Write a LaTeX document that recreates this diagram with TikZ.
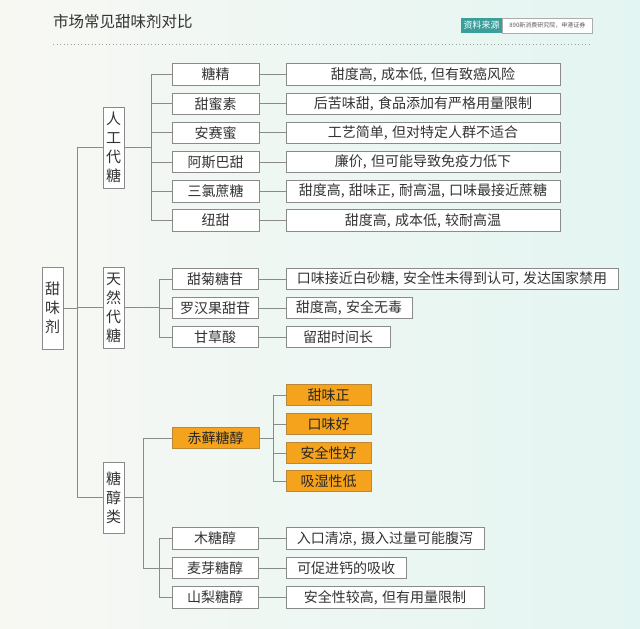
\documentclass[tikz,border=0pt]{standalone}
\usepackage{fontspec}
\setmainfont{Noto Sans CJK SC}
\usetikzlibrary{calc}
\definecolor{bgl}{HTML}{F8F8F3}
\definecolor{bgr}{HTML}{E3F5F2}
\definecolor{ln}{HTML}{8A8A8A}
\definecolor{tx}{HTML}{333333}
\definecolor{org}{HTML}{F5A31C}
\definecolor{orgd}{HTML}{B98838}
\definecolor{tealc}{HTML}{3A9E9A}
\newcommand\zcomma{,\hspace{0.3em}}
\begin{document}
\begin{tikzpicture}[x=1pt,y=-1pt,
  box/.style={draw=ln, line width=0.9pt, fill=white, minimum height=21.5pt, inner sep=0pt, text=tx, font=\fontsize{14}{15}\selectfont},
  vbox/.style={box, minimum width=21pt, align=center, font=\fontsize{15}{19}\selectfont},
  obox/.style={box, fill=org, draw=orgd, text=black!85},
  conn/.style={draw=ln, line width=0.9pt}]
\useasboundingbox (0,0) rectangle (640,629);
\fill[left color=bgl, right color=bgr] (0,0) rectangle (640,629);

% title
\node[anchor=west, inner sep=0pt, font=\fontsize{15.5}{16}\selectfont, text=tx] (title) at (53,22) {市场常见甜味剂对比};
\draw[ln!80, line width=0.9pt, dash pattern=on 1pt off 2.5pt] (53,44) -- (592,44);
\node[fill=tealc, text=white, inner sep=0pt, minimum width=41pt, minimum height=15pt, font=\fontsize{9}{9}\selectfont] (src1) at (481.5,25.5) {资料来源};
\node[draw=ln!70, fill=white, anchor=west, inner sep=0pt, minimum width=90pt, minimum height=15pt, font=\fontsize{6}{6}\selectfont, text=tx!80] (src2) at (src1.east) {890新消费研究院，申港证券};

% category nodes
\node[vbox, minimum height=82pt] (root) at (52.5,308) {甜\\味\\剂};
\node[vbox, minimum height=81pt] (cat1) at (113.5,147.5) {人\\工\\代\\糖};
\node[vbox, minimum height=81pt] (cat2) at (113.5,307.5) {天\\然\\代\\糖};
\node[vbox, minimum height=71pt] (cat3) at (113.5,497.5) {糖\\醇\\类};

% artificial sweeteners
\node[box, minimum width=87pt] (a1) at (215.5,74.5) {糖精};
\node[box, minimum width=87pt] (a2) at (215.5,103.7) {甜蜜素};
\node[box, minimum width=87pt] (a3) at (215.5,132.9) {安赛蜜};
\node[box, minimum width=87pt] (a4) at (215.5,162.1) {阿斯巴甜};
\node[box, minimum width=87pt] (a5) at (215.5,191.3) {三氯蔗糖};
\node[box, minimum width=87pt] (a6) at (215.5,220.5) {纽甜};
\node[box, minimum width=274pt] (d1) at (423,74.5) {甜度高\zcomma 成本低\zcomma 但有致癌风险};
\node[box, minimum width=274pt] (d2) at (423,103.7) {后苦味甜\zcomma 食品添加有严格用量限制};
\node[box, minimum width=274pt] (d3) at (423,132.9) {工艺简单\zcomma 但对特定人群不适合};
\node[box, minimum width=274pt] (d4) at (423,162.1) {廉价\zcomma 但可能导致免疫力低下};
\node[box, minimum width=274pt] (d5) at (423,191.3) {甜度高\zcomma 甜味正\zcomma 耐高温\zcomma 口味最接近蔗糖};
\node[box, minimum width=274pt] (d6) at (423,220.5) {甜度高\zcomma 成本低\zcomma 较耐高温};

% natural sweeteners
\node[box, minimum width=86pt] (n1) at (215,279) {甜菊糖苷};
\node[box, minimum width=86pt] (n2) at (215,308) {罗汉果甜苷};
\node[box, minimum width=86pt] (n3) at (215,337) {甘草酸};
\node[box, minimum width=332pt] (nd1) at (452,279) {口味接近白砂糖\zcomma 安全性未得到认可\zcomma 发达国家禁用};
\node[box, minimum width=126pt] (nd2) at (349,308) {甜度高\zcomma 安全无毒};
\node[box, minimum width=104pt] (nd3) at (338,337) {留甜时间长};

% sugar alcohols
\node[obox, minimum width=87pt] (ery) at (215.5,438) {赤藓糖醇};
\node[obox, minimum width=85pt] (o1) at (328.5,395) {甜味正};
\node[obox, minimum width=85pt] (o2) at (328.5,424) {口味好};
\node[obox, minimum width=85pt] (o3) at (328.5,453) {安全性好};
\node[obox, minimum width=85pt] (o4) at (328.5,481) {吸湿性低};
\node[box, minimum width=86pt] (m1) at (215,538.5) {木糖醇};
\node[box, minimum width=86pt] (m2) at (215,568) {麦芽糖醇};
\node[box, minimum width=86pt] (m3) at (215,597.5) {山梨糖醇};
\node[box, minimum width=198pt] (md1) at (385,538.5) {入口清凉\zcomma 摄入过量可能腹泻};
\node[box, minimum width=120pt] (md2) at (346,568) {可促进钙的吸收};
\node[box, minimum width=198pt] (md3) at (385,597.5) {安全性较高\zcomma 但有用量限制};

% bracket x positions
\coordinate (tk) at (77,0);
\coordinate (b1) at (151,0);
\coordinate (b2) at (159,0);
\coordinate (b3) at (143.5,0);
\coordinate (b4) at (159,0);
\coordinate (b5) at (273,0);

% trunk
\draw[conn] (root.east) -- (root.east -| tk);
\draw[conn] (cat1.west) -- (cat1.west -| tk) -- (cat3.west -| tk) -- (cat3.west);
\draw[conn] (cat2.west) -- (cat2.west -| tk);

% artificial
\draw[conn] (cat1.east) -- (cat1.east -| b1);
\draw[conn] (a1.west) -- (a1.west -| b1) -- (a6.west -| b1) -- (a6.west);
\foreach \i in {2,...,5} {\draw[conn] (a\i.west) -- (a\i.west -| b1);}
\foreach \i in {1,...,6} {\draw[conn] (a\i.east) -- (d\i.west);}

% natural
\draw[conn] (cat2.east) -- (cat2.east -| b2);
\draw[conn] (n1.west) -- (n1.west -| b2) -- (n3.west -| b2) -- (n3.west);
\draw[conn] (n2.west) -- (n2.west -| b2);
\foreach \i in {1,2,3} {\draw[conn] (n\i.east) -- (nd\i.west);}

% sugar alcohols
\draw[conn] (cat3.east) -- (cat3.east -| b3);
\draw[conn] (ery.west) -- (ery.west -| b3) -- (m2.west -| b3) -- (m2.west);
\draw[conn] (m1.west) -- (m1.west -| b4) -- (m3.west -| b4) -- (m3.west);
\foreach \i in {1,2,3} {\draw[conn] (m\i.east) -- (md\i.west);}
\draw[conn] (ery.east) -- (ery.east -| b5);
\draw[conn] (o1.west) -- (o1.west -| b5) -- (o4.west -| b5) -- (o4.west);
\draw[conn] (o2.west) -- (o2.west -| b5);
\draw[conn] (o3.west) -- (o3.west -| b5);
\end{tikzpicture}
\end{document}
